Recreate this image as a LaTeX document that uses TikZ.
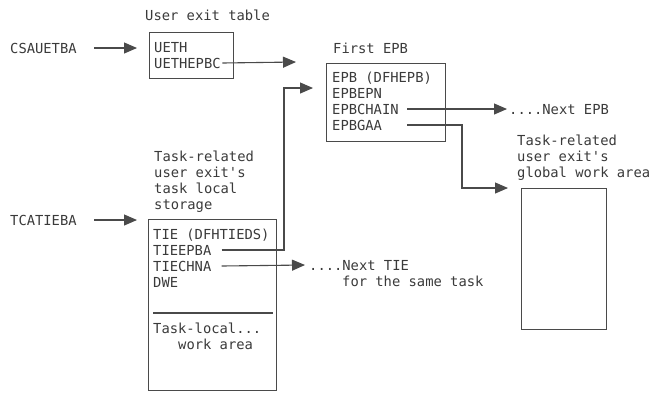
\documentclass[tikz,border=0pt]{standalone}
\usepackage{fontspec}
\newfontfamily\monofam{DejaVu Sans Mono}
\usetikzlibrary{arrows.meta,calc}
\definecolor{txt}{HTML}{3A3A3A}
\definecolor{ln}{HTML}{4A4A4A}
\begin{document}
\begin{tikzpicture}[x=1pt,y=-1pt,
  lbl/.style={font=\monofam\fontsize{13.8pt}{16pt}\selectfont, text=txt, inner sep=0pt, anchor=base west},
  box/.style={draw=ln, line width=1.2pt, inner sep=0pt, anchor=north west},
  arr/.style={draw=ln, line width=1.1pt, -{Triangle[length=13pt,width=11pt]}}]
\useasboundingbox (0,0) rectangle (652,392);

% boxes
\node[box, minimum width=84pt, minimum height=46pt] (uet) at (149,32) {};
\node[box, minimum width=119pt, minimum height=78pt] (epb) at (326,63) {};
\node[box, minimum width=128pt, minimum height=171pt] (tie) at (148,219) {};
\node[box, minimum width=85pt, minimum height=141pt] (gwa) at (521,188) {};
\draw[ln, line width=1.1pt] ($(tie.north west)+(5,94)$) -- ($(tie.north east)+(-4,94)$);

% labels
\node[lbl] (uettitle) at (145,20) {User exit table};
\node[lbl] (csa) at (10,53) {CSAUETBA};
\node[lbl] (ueth) at (154,52) {UETH};
\node[lbl] (uethepbc) at (154,68) {UETHEPBC};

\node[lbl] (epbtitle) at (333,53) {First EPB};
\node[lbl] (epbh) at (332,82) {EPB (DFHEPB)};
\node[lbl] (epbepn) at (332,98) {EPBEPN};
\node[lbl] (epbchain) at (332,114) {EPBCHAIN};
\node[lbl] (epbgaa) at (332,130) {EPBGAA};
\node[lbl] (nextepb) at (509,114) {....Next EPB};

\node[lbl] (g1) at (517,145) {Task-related};
\node[lbl] (g2) at (517,161) {user exit's};
\node[lbl] (g3) at (517,177) {global work area};

\node[lbl] (t1) at (154,161) {Task-related};
\node[lbl] (t2) at (154,177) {user exit's};
\node[lbl] (t3) at (154,193) {task local};
\node[lbl] (t4) at (154,209) {storage};
\node[lbl] (tca) at (10,225) {TCATIEBA};

\node[lbl] (tieh) at (153,239) {TIE (DFHTIEDS)};
\node[lbl] (tieepba) at (153,255) {TIEEPBA};
\node[lbl] (tiechna) at (153,271) {TIECHNA};
\node[lbl] (dwe) at (153,287) {DWE};
\node[lbl] (tl1) at (153,333) {Task-local...};
\node[lbl] (tl2) at (178,349) {work area};

\node[lbl] (nexttie) at (309,270) {....Next TIE};
\node[lbl] (sametask) at (342,286) {for the same task};

% connectors
\draw[arr] ($(csa.base east)+(17.6,-5)$) -- ($(uet.north west)+(-12,16)$);
\draw[arr] ($(uethepbc.base east)+(1.6,-5)$) -- ($(epb.north west)+(-30,-1)$);
\coordinate (c1) at ($(epb.north west)+(-42,25)$);
\draw[arr] ($(tieepba.base east)+(10,-5)$) -| (c1) -- ($(epb.north west)+(-13,25)$);
\draw[arr] ($(epbchain.base east)+(8.6,-5)$) -- ($(nextepb.base west)+(-2,-5)$);
\coordinate (c2) at ($(gwa.north west)+(-59,0)$);
\draw[arr] ($(epbgaa.base east)+(25.2,-5)$) -| (c2) -- ($(gwa.north west)+(-13,0)$);
\draw[arr] ($(tca.base east)+(17.6,-5)$) -- ($(tie.north west)+(-11,1)$);
\draw[arr] ($(tiechna.base east)+(10,-5)$) -- ($(nexttie.base west)+(-4,-5)$);
\end{tikzpicture}
\end{document}
